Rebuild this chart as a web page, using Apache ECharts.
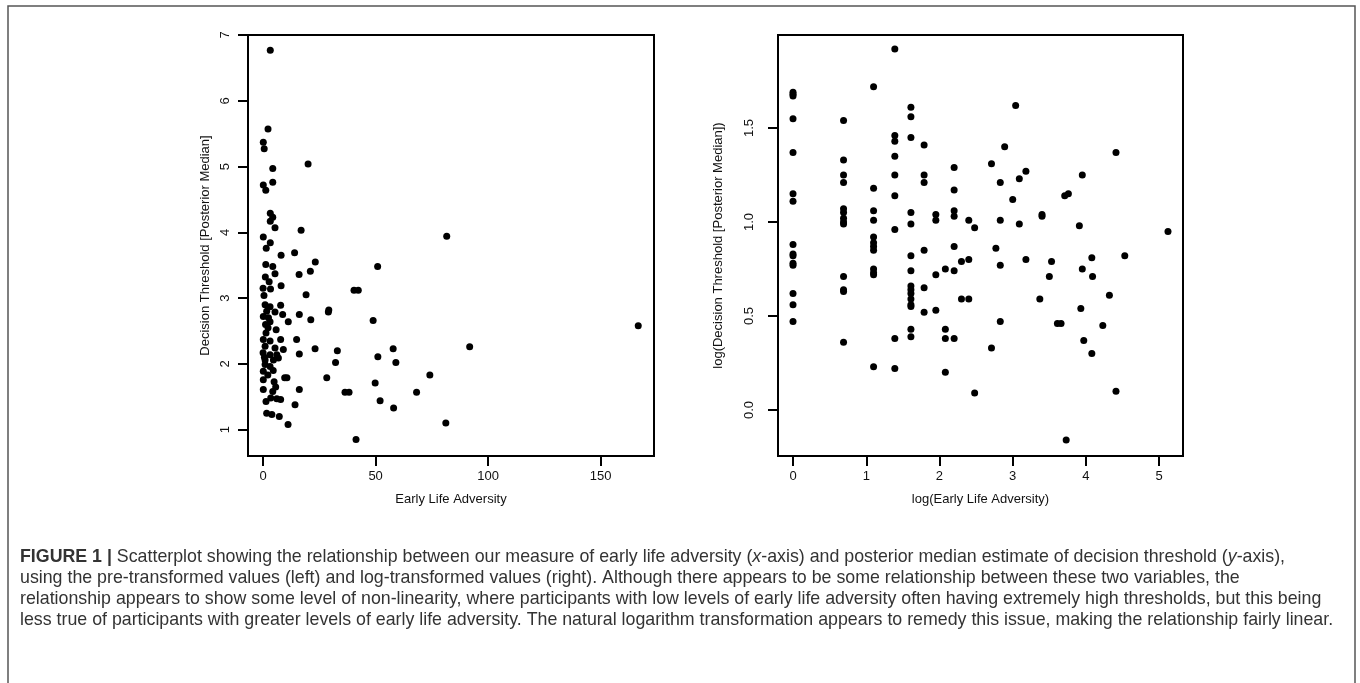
<!DOCTYPE html>
<html>
<head>
<meta charset="utf-8">
<script src="https://cdn.jsdelivr.net/npm/echarts@6.0.0/dist/echarts.min.js"></script>
<style>
  html, body { margin: 0; padding: 0; background: #fff; }
  #container { width: 1360px; height: 683px; }
</style>
</head>
<body>
<div id="container"></div>
<script>
// left panel: [early life adversity, decision threshold]
const rawPoints = [
  [3.2, 6.77], [2.2, 5.57], [0.1, 5.37], [0.5, 5.27], [4.3, 4.97], [20, 5.04], [0.1, 4.72], [1.2, 4.64],
  [4.3, 4.76], [3.2, 4.29], [4.3, 4.23], [3.2, 4.17], [5.3, 4.07], [16.9, 4.03], [0.1, 3.93], [81.6, 3.94],
  [3.2, 3.84], [1.4, 3.76], [8, 3.65], [14, 3.69], [23.2, 3.55], [21, 3.41], [16, 3.36], [50.9, 3.48],
  [1.2, 3.51], [4.3, 3.48], [5.3, 3.37], [1, 3.32], [2.7, 3.25], [8, 3.19], [0, 3.15], [3.3, 3.14],
  [0.4, 3.04], [19.1, 3.05], [40.4, 3.12], [42.3, 3.12], [29.2, 2.82], [29, 2.79], [48.9, 2.66], [16.1, 2.75],
  [21.2, 2.67], [0.9, 2.90], [3.1, 2.87], [7.8, 2.89], [1.6, 2.80], [5.3, 2.79], [8.7, 2.75], [2.4, 2.70],
  [3.1, 2.64], [11.2, 2.64], [0.1, 2.72], [1.3, 2.47], [0.1, 2.37], [3.1, 2.35], [7.8, 2.37], [14.9, 2.37],
  [0.9, 2.27], [5.3, 2.24], [9, 2.22], [23.1, 2.23], [33, 2.20], [0, 2.17], [3.1, 2.14], [6.1, 2.14],
  [16.1, 2.15], [0.9, 2.06], [4.6, 2.06], [6.8, 2.09], [32.2, 2.02], [0.9, 1.99], [3.1, 1.96], [0.1, 1.89],
  [4.5, 1.90], [0.1, 1.76], [9.6, 1.79], [10.6, 1.79], [4.9, 1.73], [28.3, 1.79], [0.1, 1.61], [4.3, 1.58],
  [16.1, 1.61], [3.4, 1.48], [6.1, 1.47], [7.8, 1.46], [1.3, 1.43], [14.2, 1.38], [1.6, 1.25], [3.9, 1.23],
  [7.2, 1.20], [11.1, 1.08], [36.4, 1.57], [38.2, 1.57], [41.3, 0.85], [57.8, 2.23], [51, 2.11], [59, 2.02],
  [49.8, 1.71], [52, 1.44], [58, 1.33], [68.2, 1.57], [74.1, 1.83], [81.2, 1.10], [91.8, 2.26], [166.7, 2.58],
  [2.2, 2.55], [1.1, 2.60], [5.8, 2.52], [0.6, 2.10], [2.1, 1.83], [5.6, 1.65]
];

// right panel: [log(adversity), log(threshold)]
const logPoints = [
  [0, 1.69], [0, 1.68], [0, 1.67], [0, 1.55], [0, 1.37], [0, 1.15], [0, 1.11], [0, 0.88],
  [0, 0.83], [0, 0.82], [0, 0.78], [0, 0.77], [0, 0.62], [0, 0.56], [0, 0.47],
  [0.69, 1.54], [0.69, 1.33], [0.69, 1.25], [0.69, 1.21], [0.69, 1.07], [0.69, 1.05], [0.69, 1.02],
  [0.69, 1.00], [0.69, 0.99], [0.69, 0.71], [0.69, 0.64], [0.69, 0.63], [0.69, 0.36],
  [1.10, 1.72], [1.10, 1.18], [1.10, 1.06], [1.10, 1.01], [1.10, 0.92], [1.10, 0.89], [1.10, 0.87],
  [1.10, 0.85], [1.10, 0.75], [1.10, 0.73], [1.10, 0.72], [1.10, 0.23],
  [1.39, 1.92], [1.39, 1.46], [1.39, 1.43], [1.39, 1.35], [1.39, 1.25], [1.39, 1.14], [1.39, 0.96],
  [1.39, 0.38], [1.39, 0.22],
  [1.61, 1.61], [1.61, 1.56], [1.61, 1.45], [1.61, 1.05], [1.61, 0.99], [1.61, 0.82], [1.61, 0.74],
  [1.61, 0.66], [1.61, 0.64], [1.61, 0.62], [1.61, 0.59], [1.61, 0.56], [1.61, 0.55], [1.61, 0.43], [1.61, 0.39],
  [1.79, 1.41], [1.79, 1.25], [1.79, 1.21], [1.79, 0.85], [1.79, 0.65], [1.79, 0.52],
  [1.95, 1.04], [1.95, 1.01], [1.95, 0.72], [1.95, 0.53],
  [2.08, 0.75], [2.08, 0.43], [2.08, 0.38], [2.08, 0.20],
  [2.20, 1.29], [2.20, 1.17], [2.20, 1.06], [2.20, 1.03], [2.20, 0.87], [2.20, 0.74], [2.20, 0.38],
  [2.30, 0.79], [2.30, 0.59], [2.40, 1.01], [2.40, 0.80], [2.40, 0.59], [2.48, 0.97], [2.48, 0.09],
  [2.71, 1.31], [2.71, 0.33], [2.77, 0.86], [2.83, 1.21], [2.83, 1.01], [2.83, 0.77], [2.83, 0.47],
  [2.89, 1.40], [3.00, 1.12], [3.04, 1.62], [3.09, 1.23], [3.09, 0.99], [3.18, 1.27], [3.18, 0.80],
  [3.37, 0.59], [3.40, 1.04], [3.40, 1.03], [3.50, 0.71], [3.53, 0.79], [3.61, 0.46], [3.66, 0.46],
  [3.71, 1.14], [3.73, -0.16], [3.76, 1.15], [3.91, 0.98], [3.93, 0.54], [3.95, 1.25], [3.95, 0.75],
  [3.97, 0.37], [4.08, 0.81], [4.08, 0.30], [4.09, 0.71], [4.23, 0.45], [4.32, 0.61], [4.41, 1.37],
  [4.41, 0.10], [4.53, 0.82], [5.12, 0.95]
];

const leftXTicks = [0, 50, 100, 150];
const leftYTicks = [1, 2, 3, 4, 5, 6, 7];
const rightXTicks = [0, 1, 2, 3, 4, 5];
const rightYTicks = [0, 0.5, 1, 1.5];

const caption = [
  'Scatterplot showing the relationship between our measure of early life adversity ({i|x}-axis) and posterior median estimate of decision threshold ({i|y}-axis),',
  'using the pre-transformed values (left) and log-transformed values (right). Although there appears to be some relationship between these two variables, the',
  'relationship appears to show some level of non-linearity, where participants with low levels of early life adversity often having extremely high thresholds, but this being',
  'less true of participants with greater levels of early life adversity. The natural logarithm transformation appears to remedy this issue, making the relationship fairly linear.'
];

const font = 'Liberation Sans';
const capSize = 17.8;

function valueAxis(min, max, ticks, name, nameGap, labelMargin, isY, fmt) {
  return {
    type: 'value',
    min: min,
    max: max,
    name: name,
    nameLocation: 'middle',
    nameGap: nameGap,
    nameTextStyle: { fontFamily: font, fontSize: 13, color: '#111' },
    axisLine: { show: true, onZero: false, lineStyle: { color: '#000', width: 2 } },
    splitLine: { show: false },
    axisTick: {
      show: true, inside: false, length: 10, customValues: ticks,
      lineStyle: { color: '#000', width: 2 }
    },
    axisLabel: {
      customValues: ticks,
      rotate: isY ? 90 : 0,
      margin: labelMargin,
      fontFamily: font, fontSize: 13, color: '#111',
      formatter: fmt
    }
  };
}

var dom = document.getElementById('container');
var myChart = echarts.init(dom, null, { renderer: 'canvas' });

var option = {
  backgroundColor: '#fff',
  animation: false,
  grid: [
    { left: 248, top: 35, width: 406, height: 421, show: true, borderColor: '#000', borderWidth: 2, backgroundColor: 'transparent' },
    { left: 778, top: 35, width: 405, height: 421, show: true, borderColor: '#000', borderWidth: 2, backgroundColor: 'transparent' }
  ],
  xAxis: [
    Object.assign(valueAxis(-6.7, 173.7, leftXTicks, 'Early Life Adversity', 37, 14, false, (v) => String(v)), { gridIndex: 0 }),
    Object.assign(valueAxis(-0.205, 5.325, rightXTicks, 'log(Early Life Adversity)', 37, 14, false, (v) => String(v)), { gridIndex: 1 })
  ],
  yAxis: [
    Object.assign(valueAxis(0.6, 7.0, leftYTicks, 'Decision Threshold [Posterior Median]', 36, 16, true, (v) => String(v)), { gridIndex: 0 }),
    Object.assign(valueAxis(-0.245, 1.995, rightYTicks, 'log(Decision Threshold [Posterior Median])', 53, 22, true, (v) => v.toFixed(1)), { gridIndex: 1 })
  ],
  series: [
    {
      type: 'scatter', xAxisIndex: 0, yAxisIndex: 0,
      data: rawPoints, symbol: 'circle', symbolSize: 7,
      itemStyle: { color: '#000', opacity: 1 }
    },
    {
      type: 'scatter', xAxisIndex: 1, yAxisIndex: 1,
      data: logPoints, symbol: 'circle', symbolSize: 7,
      itemStyle: { color: '#000', opacity: 1 }
    }
  ],
  graphic: [
    {
      type: 'rect',
      shape: { x: 8, y: 6, width: 1347, height: 720 },
      style: { fill: 'none', stroke: '#555', lineWidth: 1.5 },
      silent: true
    }
  ].concat(caption.map((line, i) => ({
    type: 'text',
    left: 20,
    top: 548 + i * 21,
    style: {
      text: (i === 0 ? '{b|FIGURE 1 |} ' : '') + line,
      fontFamily: font,
      fontSize: capSize,
      fill: '#333',
      rich: {
        b: { fontFamily: font, fontSize: capSize, fontWeight: 'bold', fill: '#333' },
        i: { fontFamily: font, fontSize: capSize, fontStyle: 'italic', fill: '#333' }
      }
    }
  })))
};

if (option && typeof option === 'object') {
  myChart.setOption(option);
}

window.addEventListener('resize', myChart.resize);
</script>
</body>
</html>
